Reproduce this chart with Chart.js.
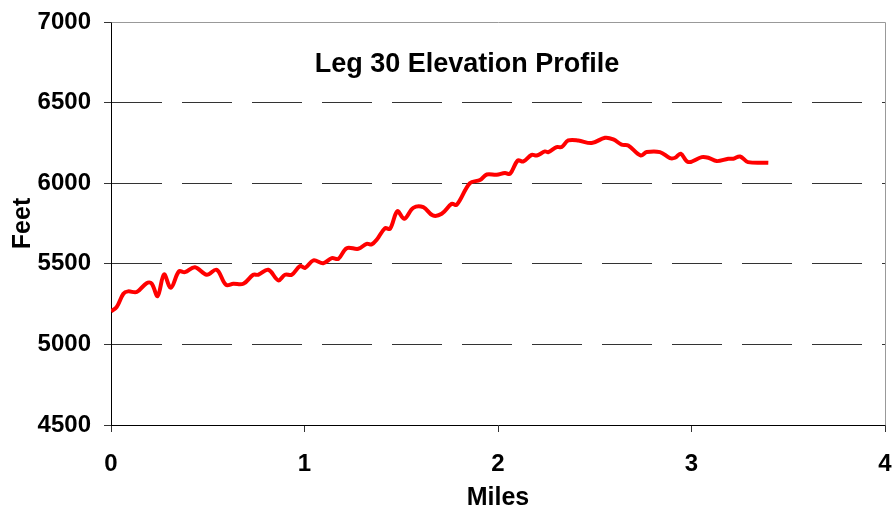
<!DOCTYPE html>
<html>
<head>
<meta charset="utf-8">
<script src="https://cdn.jsdelivr.net/npm/chart.js@4"></script>
<style>
  html, body { margin: 0; padding: 0; background: #fff; }
  #wrap { width: 892px; height: 512px; position: relative; }
</style>
</head>
<body>
<div id="wrap"><canvas id="c"></canvas></div>
<script>
const chartTitle = 'Leg 30 Elevation Profile';
const xTitle = 'Miles';
const yTitle = 'Feet';
const xTicks = [0, 1, 2, 3, 4];
const yTicks = [4500, 5000, 5500, 6000, 6500, 7000];

const miles = [0,0.029,0.064,0.088,0.133,0.184,0.210,0.241,0.274,0.309,0.351,0.382,0.434,0.495,0.546,0.594,0.632,0.684,0.735,0.761,0.813,0.865,0.899,0.934,0.977,1.003,1.046,1.097,1.141,1.175,1.218,1.278,1.321,1.347,1.373,1.416,1.442,1.480,1.516,1.562,1.614,1.663,1.709,1.761,1.787,1.855,1.907,1.942,1.993,2.036,2.062,2.102,2.131,2.174,2.200,2.243,2.260,2.303,2.329,2.363,2.415,2.484,2.553,2.596,2.639,2.673,2.737,2.768,2.837,2.889,2.915,2.944,2.983,3.053,3.087,3.130,3.190,3.216,3.251,3.292,3.397];
const feet = [5205,5231,5314,5329,5325,5380,5378,5300,5434,5351,5453,5448,5479,5432,5463,5370,5376,5376,5432,5432,5463,5397,5432,5432,5486,5475,5521,5504,5535,5531,5597,5593,5624,5620,5649,5721,5717,5826,5779,5847,5851,5800,5810,5872,5866,6000,6020,6054,6052,6064,6058,6141,6135,6176,6172,6197,6193,6224,6224,6265,6265,6249,6282,6272,6239,6234,6172,6193,6193,6156,6158,6183,6131,6162,6158,6137,6152,6152,6166,6131,6127];

const points = miles.map((m, i) => ({ x: m, y: feet[i] }));
const FONT = "'Liberation Sans', Arial, Helvetica, sans-serif";

const framePlugin = {
  id: 'frame',
  afterDraw(chart) {
    const { ctx, chartArea: a } = chart;
    ctx.save();
    ctx.strokeStyle = '#999999';
    ctx.lineWidth = 1;
    ctx.beginPath();
    ctx.moveTo(Math.round(a.left) + 0.5, Math.round(a.top) + 0.5);
    ctx.lineTo(Math.round(a.right) + 0.5, Math.round(a.top) + 0.5);
    ctx.lineTo(Math.round(a.right) + 0.5, Math.round(a.bottom) + 0.5);
    ctx.stroke();
    ctx.fillStyle = '#000';
    ctx.font = 'bold 27px ' + FONT;
    ctx.textAlign = 'center';
    ctx.textBaseline = 'middle';
    ctx.fillText(chartTitle, a.left + 356, a.top + 43);
    ctx.restore();
  }
};

new Chart(document.getElementById('c'), {
  type: 'line',
  data: {
    datasets: [{
      data: points,
      borderColor: '#ff0000',
      borderWidth: 4,
      pointRadius: 0,
      tension: 0.35,
      fill: false
    }]
  },
  options: {
    responsive: true,
    maintainAspectRatio: false,
    animation: false,
    layout: { padding: { top: 22, right: 7, left: 0, bottom: 0 } },
    plugins: { legend: { display: false }, tooltip: { enabled: false }, title: { display: false } },
    scales: {
      x: {
        type: 'linear',
        min: xTicks[0],
        max: xTicks[xTicks.length - 1],
        afterBuildTicks: s => { s.ticks = xTicks.map(v => ({ value: v })); },
        afterFit: s => { s.height = 87; s.paddingLeft = 0; s.paddingRight = 0; },
        ticks: { color: '#000', font: { family: FONT, size: 24, weight: 'bold' }, padding: 18, maxRotation: 0, callback: v => String(v) },
        grid: { display: true, drawOnChartArea: false, drawTicks: true, tickLength: 7, tickColor: '#333' },
        border: { display: true, color: '#000', width: 1 },
        title: { display: true, text: xTitle, color: '#000', font: { family: FONT, size: 25, weight: 'bold', lineHeight: 1.1 }, padding: 0 }
      },
      y: {
        type: 'linear',
        min: yTicks[0],
        max: yTicks[yTicks.length - 1],
        afterBuildTicks: s => { s.ticks = yTicks.map(v => ({ value: v })); },
        afterFit: s => { s.width = 111; s.paddingTop = 0; s.paddingBottom = 0; },
        ticks: { color: '#000', font: { family: FONT, size: 24, weight: 'bold' }, padding: 13, callback: v => String(v) },
        grid: {
          color: ctx => (ctx.tick && (ctx.tick.value === 7000 || ctx.tick.value === 4500)) ? 'rgba(0,0,0,0)' : '#333333',
          lineWidth: 1,
          drawTicks: true, tickLength: 7, tickColor: '#333', tickBorderDash: []
        },
        border: { display: true, color: '#000', width: 1, dash: [50, 20] },
        title: { display: true, text: yTitle, color: '#000', font: { family: FONT, size: 25, weight: 'bold', lineHeight: 1.2 }, padding: { top: 8, bottom: 0 } }
      }
    }
  },
  plugins: [framePlugin]
});
</script>
</body>
</html>
